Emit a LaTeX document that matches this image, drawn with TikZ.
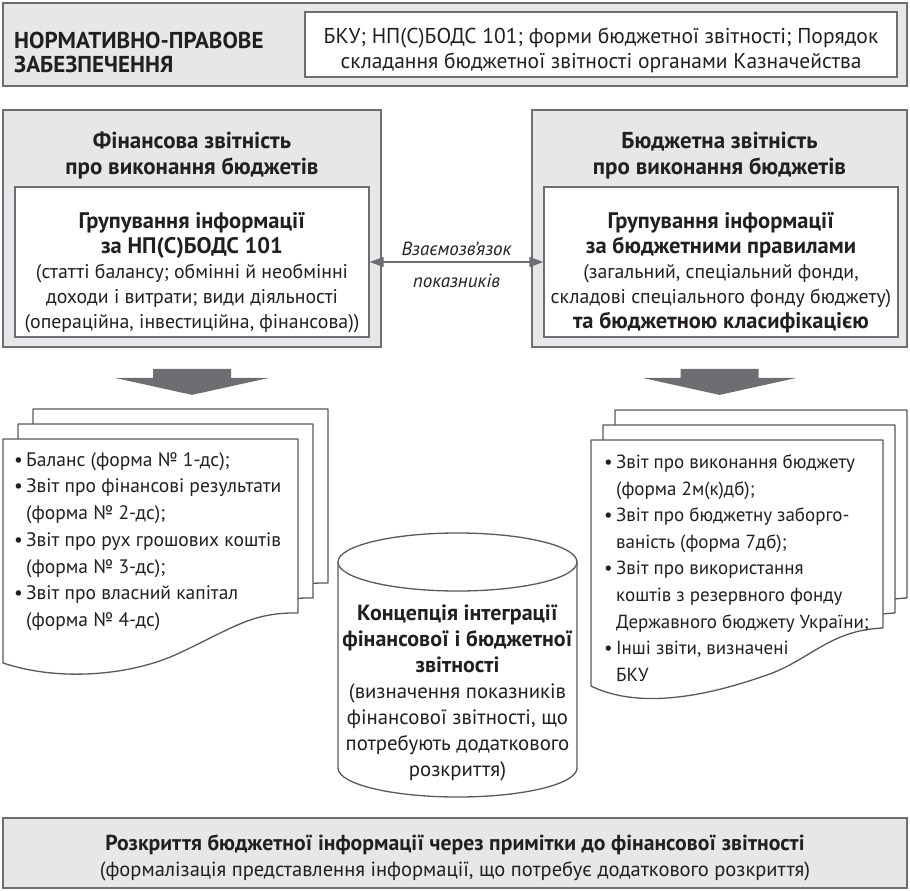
\documentclass[tikz,border=0pt]{standalone}
\usepackage{fontspec}
\setmainfont{PT Sans}
\usetikzlibrary{arrows.meta,positioning,calc}
\definecolor{boxgray}{RGB}{230,231,232}
\definecolor{linegray}{RGB}{109,110,113}
\definecolor{inkblack}{RGB}{35,31,32}
\definecolor{sheetline}{RGB}{88,89,91}
\newcommand{\bul}{\makebox[12pt][l]{•}}
\newcommand{\ind}{\hspace*{12pt}}
\newcommand{\hl}[1]{{\fontsize{22.5}{25}\selectfont\bfseries #1}}

\begin{document}
\begin{tikzpicture}[
    x=1pt, y=-1pt,
    txt/.style={font=\fontsize{19.8}{25}\selectfont, text=inkblack, inner sep=0pt},
    head/.style={font=\fontsize{23}{26}\selectfont\bfseries, text=inkblack, inner sep=0pt, align=center},
    outerbox/.style={rectangle, draw=linegray, line width=1.8pt, fill=boxgray, inner sep=0pt},
    innerbox/.style={rectangle, draw=linegray, line width=1.4pt, fill=white, inner sep=0pt},
    sheet/.style={draw=sheetline, line width=1.3pt, fill=white, line join=round},
    link/.style={draw=linegray, line width=1.6pt, {Triangle[length=14pt,width=10pt]}-{Triangle[length=14pt,width=10pt]}},
    linklabel/.style={txt, font=\fontsize{19}{22}\selectfont\itshape}
]
    \useasboundingbox (0,0) rectangle (910,891);

    % Legal basis
    \node[outerbox, minimum width=904pt, minimum height=83pt] (legal) at (455,44.5) {};
    \node[innerbox, minimum width=592pt, minimum height=65pt] (legalbox) at (601,44.5) {};
    \node[txt, font=\fontsize{23}{24}\selectfont\bfseries, align=left, anchor=west] (legalname) at (14,52.5)
        {НОРМАТИВНО-ПРАВОВЕ\\ЗАБЕЗПЕЧЕННЯ};
    \node[txt, font=\fontsize{21.5}{25}\selectfont, align=center] (legaldocs) at (601,50)
        {БКУ; НП(С)БОДС 101; форми бюджетної звітності; Порядок\\складання бюджетної звітності органами Казначейства};

    % Reporting types
    \node[outerbox, minimum width=378pt, minimum height=237pt] (finBox) at (192,228.5) {};
    \node[head] (finTitle) at (192,156) {Фінансова звітність\\про виконання бюджетів};
    \node[innerbox, minimum width=354pt, minimum height=150pt] (finInner) at (192,262) {};
    \node[txt, align=center] (finText) at (192,273)
        {\hl{Групування інформації}\\\hl{за НП(С)БОДС 101}\\(статті балансу; обмінні й необмінні\\доходи і витрати; види діяльності\\(операційна, інвестиційна, фінансова))};

    \node[outerbox, minimum width=375pt, minimum height=237pt] (budBox) at (719.5,228.5) {};
    \node[head] (budTitle) at (719.5,156) {Бюджетна звітність\\про виконання бюджетів};
    \node[innerbox, minimum width=354pt, minimum height=150pt] (budInner) at (721,262) {};
    \node[txt, align=center] (budText) at (721,273)
        {\hl{Групування інформації}\\\hl{за бюджетними правилами}\\(загальний, спеціальний фонди,\\складові спеціального фонду бюджету)\\\hl{та бюджетною класифікацією}};

    % Link
    \draw[link] (finInner.east) -- (budInner.west)
        node[linklabel, midway, above=5pt] (linkup) {Взаємозв’язок}
        node[linklabel, midway, below=11pt] (linkdown) {показників};

    % Big arrows
    \fill[linegray] ($(finBox.south)+(-39,21)$) -- ++(78,0) -- ++(0,9) -- ++(38,0)
        -- ($(finBox.south)+(0,47)$) -- ++(-77,-17) -- ++(38,0) -- cycle;
    \fill[linegray] ($(budBox.south)+(-39,21)$) -- ++(78,0) -- ++(0,9) -- ++(38,0)
        -- ($(budBox.south)+(0,47)$) -- ++(-77,-17) -- ++(38,0) -- cycle;

    % Financial statements
    \foreach \i in {2,1,0} {
        \begin{scope}[shift={(15*\i,-15*\i)}]
            \filldraw[sheet] (3,439) -- (298,439) -- (298,613)
                .. controls (250,612) and (230,630) .. (175,655)
                .. controls (130,675) and (60,682) .. (3,663) -- cycle;
        \end{scope}
    }
    \node[txt, font=\fontsize{19.5}{26.7}\selectfont, align=left, anchor=west] (finForms) at (14,541.5)
        {\bul Баланс (форма № 1-дс);\\
         \bul Звіт про фінансові результати\\
         \ind (форма № 2-дс);\\
         \bul Звіт про рух грошових коштів\\
         \ind (форма № 3-дс);\\
         \bul Звіт про власний капітал\\
         \ind (форма № 4-дс)};

    % Budget statements
    \foreach \i in {2,1,0} {
        \begin{scope}[shift={(12*\i,-15*\i)}]
            \filldraw[sheet] (591,440) -- (883,440) -- (883,628)
                .. controls (830,630) and (810,660) .. (767,675)
                .. controls (735,686) and (650,715) .. (591,686) -- cycle;
        \end{scope}
    }
    \node[txt, font=\fontsize{19}{26.6}\selectfont, align=left, anchor=west] (budForms) at (604,568)
        {\bul Звіт про виконання бюджету\\
         \ind (форма 2м(к)дб);\\
         \bul Звіт про бюджетну заборго-\\
         \ind ваність (форма 7дб);\\
         \bul Звіт про використання\\
         \ind коштів з резервного фонду\\
         \ind Державного бюджету України;\\
         \bul Інші звіти, визначені\\
         \ind БКУ};

    % Integration concept
    \draw[sheet] (338,562) -- (338,768) arc[start angle=180, end angle=0, x radius=119.5, y radius=29] -- (577,562);
    \draw[sheet] (457.5,562) ellipse [x radius=119.5, y radius=29];
    \node[txt, font=\fontsize{20.8}{26}\selectfont, align=center] (concept) at (457.5,692.5)
        {\textbf{\fontsize{22}{26}\selectfont Концепція інтеграції}\\\textbf{\fontsize{22}{26}\selectfont фінансової і бюджетної}\\\textbf{\fontsize{22}{26}\selectfont звітності}\\(визначення показників\\фінансової звітності, що\\потребують додаткового\\розкриття)};

    % Disclosure
    \node[outerbox, minimum width=904pt, minimum height=70pt] (notes) at (455,853) {};
    \node[txt, font=\fontsize{20.5}{26}\selectfont, align=center] (notesText) at (455,857.5)
        {\textbf{\fontsize{21.7}{26}\selectfont Розкриття бюджетної інформації через примітки до фінансової звітності}\\(формалізація представлення інформації, що потребує додаткового розкриття)};
\end{tikzpicture}
\end{document}
